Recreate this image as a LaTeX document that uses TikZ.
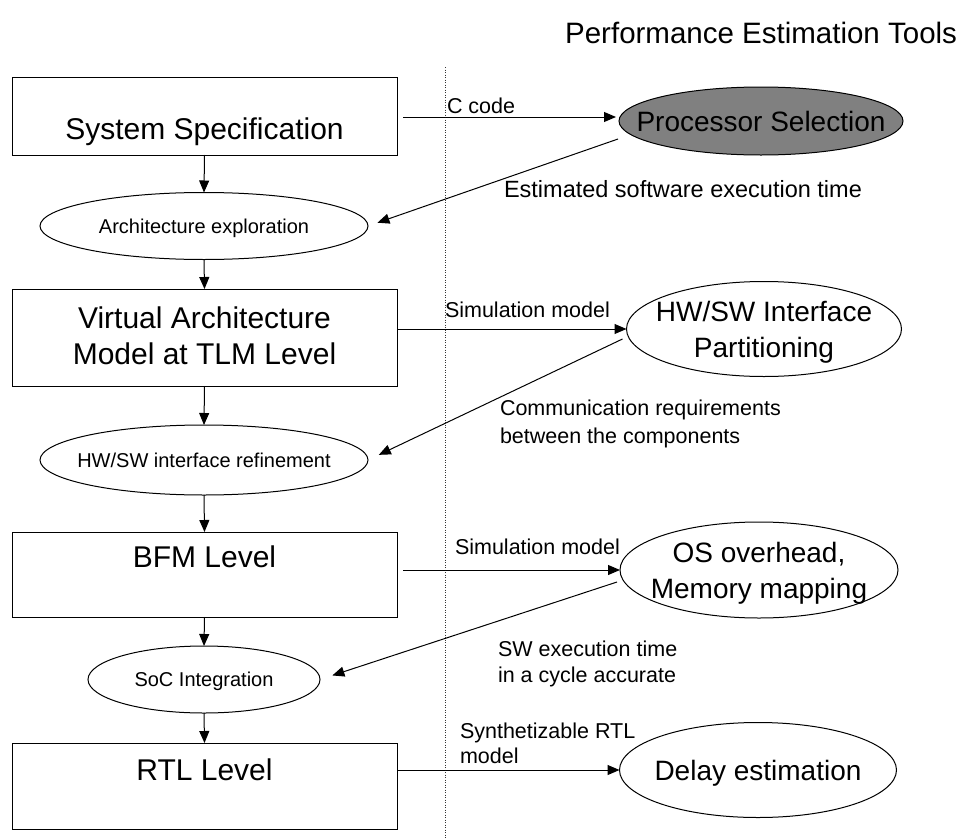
\documentclass[tikz,border=0pt]{standalone}
\usepackage{fontspec}
\setmainfont{Liberation Sans}
\usetikzlibrary{shapes.geometric,arrows.meta,calc}
\definecolor{procgray}{RGB}{128,128,128}
\begin{document}
\begin{tikzpicture}[x=1pt,y=-1pt,
  every node/.style={inner sep=0pt, outer sep=0pt},
  box/.style={draw, line width=1pt, minimum width=385pt},
  oval/.style={draw, ellipse, line width=1pt, align=center, inner xsep=-60pt, inner ysep=-20pt, text depth=0pt},
  bigtxt/.style={font=\fontsize{30}{36}\selectfont, align=center, anchor=base},
  ovaltxt/.style={font=\fontsize{28}{36}\selectfont},
  smalltxt/.style={font=\fontsize{20}{24}\selectfont},
  lbl/.style={font=\fontsize{21.5}{26}\selectfont, align=left, anchor=base west},
  arr/.style={line width=1pt, -{Triangle[length=12pt,width=10pt]}},
  dotline/.style={line width=0.8pt, dash pattern=on 1pt off 1.5pt, black!80},
]
\useasboundingbox (0,0) rectangle (967,838);

% title
\node[font=\fontsize{29.5}{35}\selectfont, anchor=base east] (title) at (957,43) {Performance Estimation Tools};

% dotted separator
\coordinate (dtop) at (445,67);
\coordinate (dbot) at (445,838);
\draw[dotline] (dtop) -- (dbot);

% left column boxes
\node[box, minimum height=78pt] (spec) at (204.5,116) {};
\node[bigtxt] (spect) at (204.5,139) {System Specification};

\node[oval, smalltxt, minimum width=328pt, minimum height=67pt] (arch) at (204,226) {Architecture exploration};

\node[box, minimum height=97pt] (va) at (204.5,337.5) {};
\node[bigtxt] (vat) at (204.5,364) {Virtual Architecture\\Model at TLM Level};

\node[oval, smalltxt, minimum width=328pt, minimum height=70pt] (ref) at (204,460) {HW/SW interface refinement};

\node[box, minimum height=85pt] (bfm) at (204.5,574.5) {};
\node[bigtxt] (bfmt) at (204.5,567) {BFM Level};

\node[oval, smalltxt, minimum width=232pt, minimum height=67pt] (soc) at (204,679.5) {SoC Integration};

\node[box, minimum height=86pt] (rtl) at (204.5,786) {};
\node[bigtxt] (rtlt) at (204.5,780) {RTL Level};

% right column ellipses
\node[oval, ovaltxt, fill=procgray, minimum width=284pt, minimum height=68pt] (proc) at (761,121) {Processor Selection};
\node[oval, ovaltxt, minimum width=275pt, minimum height=95pt] (hw) at (764,329) {HW/SW Interface\\Partitioning};
\node[oval, ovaltxt, minimum width=278pt, minimum height=96pt] (os) at (759,570) {OS overhead,\\Memory mapping};
\node[oval, ovaltxt, minimum width=277pt, minimum height=95pt] (delay) at (758,770) {Delay estimation};

% vertical flow
\draw[arr] (spec.south) -- (arch.north);
\draw[arr] (arch.south) -- (va.north);
\draw[arr] (va.south) -- (ref.north);
\draw[arr] (ref.south) -- (bfm.north);
\draw[arr] (bfm.south) -- (soc.north);
\draw[arr] (soc.south) -- (rtl.north);

% horizontal arrows to tools
\draw[arr, shorten <=6pt] ([yshift=4pt]proc.west -| spec.east) -- ([yshift=4pt,xshift=-3pt]proc.west);
\draw[arr] (hw.west -| va.east) -- (hw.west);
\draw[arr, shorten <=6pt] (os.west -| bfm.east) -- (os.west);
\draw[arr] (delay.west -| rtl.east) -- (delay.west);

% feedback arrows
\draw[arr, shorten >=10pt] ([yshift=-18pt,xshift=-1pt]proc.west) -- (arch.east);
\draw[arr, shorten >=12pt] ([yshift=-10pt,xshift=-4pt]hw.west) -- (ref.east);
\draw[arr, shorten >=13pt] ([yshift=-12pt,xshift=-3pt]os.west) -- (soc.east);

% labels (base anchor = baseline of last line)
\node[lbl] (lc) at (447,113) {C code};
\node[lbl, font=\fontsize{23.5}{28}\selectfont] (le) at (504,197) {Estimated software execution time};
\node[lbl] (ls1) at (445,317) {Simulation model};
\node[lbl, font=\fontsize{21.5}{28}\selectfont] (lcomm) at (500,443) {Communication requirements\\between the components};
\node[lbl] (ls2) at (455,554) {Simulation model};
\node[lbl] (lsw) at (498,682) {SW execution time\\in a cycle accurate};
\node[lbl, font=\fontsize{21.5}{25}\selectfont] (lsyn) at (460,763) {Synthetizable RTL\\model};
\end{tikzpicture}
\end{document}
